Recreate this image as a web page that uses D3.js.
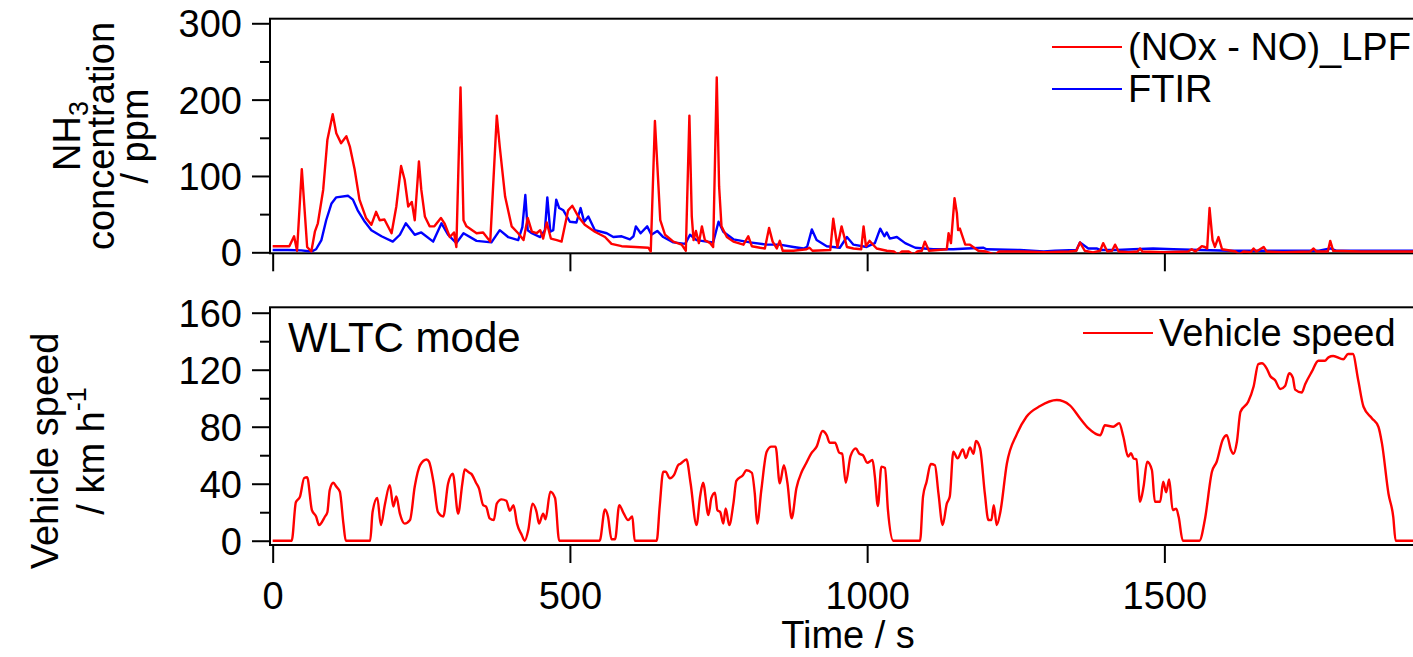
<!DOCTYPE html>
<html>
<head>
<meta charset="utf-8">
<script src="https://cdn.jsdelivr.net/npm/d3@7"></script>
<style>
  body { margin: 0; background: #fff; }
  svg { display: block; font-family: "Liberation Sans", Arial, sans-serif; }
</style>
</head>
<body>
<div id="chart"></div>
<script>
// NH3 from (NOx - NO) after low pass filter, [time s, ppm]
const lpfData = [
  [0,8],[28,8],[36,21],[41,2],[49,109],[58,7],[65,1],[71,27],[76,38],[85,82],[92,147],[101,181],
  [107,156],[115,143],[124,152],[130,138],[138,108],[146,69],[157,45],[166,36],[174,53],[180,42],
  [188,43],[200,25],[208,60],[216,113],[222,95],[228,60],[234,66],[239,42],[246,119],[250,82],
  [256,47],[264,34],[272,34],[283,45],[289,38],[298,20],[305,26],[309,7],[316,216],[321,42],
  [326,34],[343,25],[354,26],[366,14],[377,179],[382,138],[391,73],[402,34],[413,25],[422,16],
  [429,45],[436,27],[444,25],[450,29],[455,18],[461,39],[468,18],[478,16],[486,14],[497,55],
  [504,61],[514,47],[525,36],[542,27],[559,20],[570,11],[587,8],[610,7],[632,6],[636,1],[643,172],
  [649,86],[652,42],[660,23],[674,14],[688,10],[695,2],[701,179],[705,47],[708,16],[712,28],
  [717,12],[722,34],[727,16],[736,12],[741,7],[747,229],[751,86],[755,34],[764,20],[775,14],
  [792,10],[800,21],[806,8],[820,6],[828,5],[835,32],[841,14],[848,5],[853,15],[858,2],[876,2],
  [898,4],[903,6],[908,2],[938,3],[943,44],[950,7],[957,34],[966,7],[977,5],[990,4],[994,34],
  [998,8],[1004,15],[1016,5],[1033,2],[1045,1],[1052,-3],[1058,1],[1070,1],[1078,-3],[1084,1],
  [1092,2],[1097,14],[1104,2],[1134,4],[1137,25],[1141,12],[1147,71],[1151,51],[1153,29],
  [1156,31],[1165,10],[1173,10],[1187,2],[1200,1],[1215,-3],[1222,1],[1260,1],[1300,0],[1340,1],
  [1352,2],[1358,13],[1366,2],[1380,0],[1392,2],[1397,12],[1404,1],[1412,2],[1417,10],[1423,1],
  [1440,0],[1455,1],[1459,5],[1463,1],[1500,0],[1540,1],[1546,4],[1552,1],[1560,6],[1563,8],
  [1568,7],[1572,5],[1576,58],[1581,16],[1585,7],[1591,20],[1597,4],[1620,1],[1626,-3],[1633,1],
  [1645,0],[1650,5],[1655,1],[1667,7],[1672,1],[1700,0],[1745,1],[1751,5],[1756,1],[1775,1],
  [1779,15],[1784,2],[1829,1],[1930,1]
];

// NH3 measured by FTIR, [time s, ppm]
const ftirData = [
  [0,3],[25,3],[48,2.5],[65,1],[73,4],[82,16],[90,42],[99,64],[107,72],[127,74],[135,69],
  [143,55],[155,40],[166,29],[183,21],[202,14],[214,23],[224,38],[239,23],[250,26],[270,14],
  [284,38],[295,23],[309,12],[321,25],[343,15],[368,13],[382,29],[396,20],[413,16],[420,33],
  [425,75],[429,29],[436,25],[450,20],[458,29],[462,72],[467,27],[472,29],[477,69],[482,58],
  [489,55],[500,40],[511,39],[518,58],[524,40],[531,47],[542,29],[562,25],[573,20],[587,21],
  [601,17],[607,21],[611,34],[619,25],[630,34],[637,23],[647,28],[657,20],[674,13],[694,11],
  [702,23],[713,16],[730,14],[741,13],[750,40],[758,27],[775,17],[803,13],[831,10],[853,10],
  [876,7],[893,5],[899,7],[907,30],[915,16],[932,8],[954,6],[966,20],[977,10],[999,7],[1013,12],
  [1022,31],[1029,21],[1033,26],[1038,18],[1050,20],[1064,12],[1081,6],[1111,4],[1145,4],
  [1168,5],[1195,6],[1201,4],[1257,3],[1297,1],[1316,2],[1352,3],[1358,13],[1372,5],[1386,5],
  [1393,3],[1420,3],[1448,4],[1481,5],[1515,4],[1560,3],[1611,2],[1760,2],[1779,5],[1790,2],
  [1930,2]
];

// vehicle speed, [time s, km/h]
const speedData = [
  [0,0],[32,0],[39,27],[46,31],[53,44],[58,44.5],[66,21.5],[73,17],[78,11],[88,17],[92,20],
  [96,35.6],[102,40.7],[107,38],[113,34.4],[119,12],[123,0],[164,0],[168,20],[176,30],[182,11],
  [189,26],[197,39],[203,24],[208,31],[214,19],[222,12],[231,14.5],[239,38],[248,53],[259,57],
  [263,55.5],[271,40],[278,20],[287,17],[295,40],[303,47],[312,19],[319,40],[323,50],[331,47.7],
  [334,47],[342,40.7],[347,36.8],[354,25],[359,24],[365,15.7],[372,14.5],[377,26],[385,29],
  [393,28],[399,21],[405,25],[411,12],[419,4],[424,0],[430,7.5],[437,26],[444,20],[448,12],
  [455,19],[459,15],[467,34.4],[475,30],[482,0],[550,0],[559,22],[564,17],[570,1],[576,1],
  [583,25],[590,19.6],[598,14.5],[605,17],[609,0],[646,0],[651,24],[657,48.4],[661,48.4],
  [668,43.8],[675,46],[682,53],[686,54],[696,57],[703,40.3],[713,11],[719,31],[724,40.7],
  [733,18],[738,30],[744,33.7],[748,21.5],[753,20],[758,12],[762,22.7],[768,11],[775,26],
  [780,42],[791,46],[797,49.5],[806,47.7],[811,33],[815,12],[822,35.6],[831,62.5],[839,66],
  [846,66],[853,40.3],[860,53],[866,40.3],[873,15.7],[881,36.8],[890,48.4],[897,54],[906,61.3],
  [915,66],[925,77],[932,74],[937,68.8],[946,68.8],[953,61.8],[958,61],[964,40.7],[972,59.4],
  [981,64.8],[987,61],[993,60],[1000,54.7],[1009,56.6],[1013,45],[1018,24.4],[1024,52],[1030,51],
  [1035,21.5],[1044,0],[1089,0],[1094,31],[1100,41.4],[1107,53.8],[1114,53],[1120,33],[1127,11],
  [1134,26],[1139,31],[1145,62.5],[1152,57.8],[1161,64],[1166,58],[1173,65.5],[1179,61],[1183,70],
  [1190,64.8],[1198,33],[1204,14.5],[1209,14.5],[1213,25],[1218,11],[1224,20],[1235,54],[1252,75],
  [1268,87],[1291,94.5],[1319,98.7],[1341,95],[1358,86],[1372,79],[1392,74],[1400,81],[1414,80],
  [1424,82.4],[1431,73],[1439,59],[1444,61.5],[1448,57.8],[1453,57],[1459,27.4],[1465,38],
  [1471,55.4],[1479,49.6],[1484,27.4],[1493,27.4],[1498,41.4],[1503,34],[1508,43],[1514,21.5],
  [1520,22.5],[1524,16.8],[1531,0],[1559,0],[1568,14.5],[1580,48.4],[1588,55.4],[1598,70.7],
  [1605,74],[1612,63.6],[1616,61],[1622,69.5],[1628,90.5],[1641,97.5],[1650,108],[1658,124],
  [1664,124.5],[1672,121],[1678,115.6],[1686,112.8],[1695,106.5],[1703,108.6],[1710,117.5],
  [1716,114.6],[1720,106],[1731,104],[1737,110],[1748,118.6],[1759,126.3],[1770,126.3],
  [1776,128.7],[1784,129.6],[1801,127.3],[1809,131],[1817,131],[1826,112.8],[1835,94],[1849,86],
  [1860,80],[1866,68.3],[1877,33],[1885,16.8],[1889,0],[1930,0]
];

const timeTicks = [0, 500, 1000, 1500];
const concTicks = [0, 100, 200, 300];
const concMinor = [50, 150, 250];
const speedTicks = [0, 40, 80, 120, 160];
const speedMinor = [20, 60, 100, 140];

const W = 1413, H = 657;
const FONT = 38;

const svg = d3.select("#chart").append("svg")
    .attr("width", W)
    .attr("height", H);

const x = d3.scaleLinear().domain([-4.5, 1930]).range([270, 1420]);
const yTop = d3.scaleLinear().domain([-1.3, 306]).range([253.3, 18.7]);
const yBot = d3.scaleLinear().domain([-3, 163.8]).range([545, 307.3]);

// clip areas
const defs = svg.append("defs");
defs.append("clipPath").attr("id", "clipTop").append("rect")
    .attr("x", 270).attr("y", 18.7).attr("width", 1150).attr("height", 234.6);
defs.append("clipPath").attr("id", "clipBot").append("rect")
    .attr("x", 270).attr("y", 307.3).attr("width", 1150).attr("height", 237.7);

function drawPanel(y, ticks, minor, showX) {
    // left axis, major ticks with labels
    const left = svg.append("g")
        .attr("transform", "translate(270,0)")
        .call(d3.axisLeft(y).tickValues(ticks).tickSize(18).tickPadding(10));
    left.select(".domain").remove();
    left.selectAll("line").attr("stroke", "#000").attr("stroke-width", 2);
    left.selectAll("text")
        .attr("fill", "#000")
        .style("font-size", FONT + "px")
        .attr("dy", "0.36em");

    // minor ticks
    const lm = svg.append("g")
        .attr("transform", "translate(270,0)")
        .call(d3.axisLeft(y).tickValues(minor).tickSize(10).tickFormat(""));
    lm.select(".domain").remove();
    lm.selectAll("line").attr("stroke", "#000").attr("stroke-width", 2);

    // bottom ticks
    const y0 = y.range()[0];
    const bottom = svg.append("g")
        .attr("transform", "translate(0," + y0 + ")")
        .call(d3.axisBottom(x).tickValues(timeTicks).tickSize(18).tickPadding(19)
            .tickFormat(showX ? d3.format("d") : ""));
    bottom.select(".domain").remove();
    bottom.selectAll("line").attr("stroke", "#000").attr("stroke-width", 2);
    bottom.selectAll("text").attr("fill", "#000").style("font-size", FONT + "px");

    // frame
    svg.append("rect")
        .attr("x", 270)
        .attr("y", y.range()[1])
        .attr("width", 1160)
        .attr("height", y.range()[0] - y.range()[1])
        .attr("fill", "none")
        .attr("stroke", "#000")
        .attr("stroke-width", 2);
}

drawPanel(yTop, concTicks, concMinor, false);
drawPanel(yBot, speedTicks, speedMinor, true);

const lineTop = d3.line().x(d => x(d[0])).y(d => yTop(d[1]));
const lineBot = d3.line().x(d => x(d[0])).y(d => yBot(d[1])).curve(d3.curveMonotoneX);

svg.append("path")
    .datum(ftirData)
    .attr("clip-path", "url(#clipTop)")
    .attr("d", lineTop)
    .attr("fill", "none")
    .attr("stroke", "#0000ff")
    .attr("stroke-width", 2.4)
    .attr("stroke-linejoin", "round");

svg.append("path")
    .datum(lpfData)
    .attr("clip-path", "url(#clipTop)")
    .attr("d", lineTop)
    .attr("fill", "none")
    .attr("stroke", "#ff0000")
    .attr("stroke-width", 2.4)
    .attr("stroke-linejoin", "round");

svg.append("path")
    .datum(speedData)
    .attr("clip-path", "url(#clipBot)")
    .attr("d", lineBot)
    .attr("fill", "none")
    .attr("stroke", "#ff0000")
    .attr("stroke-width", 2.4)
    .attr("stroke-linejoin", "round");

// legends
function legendItem(x1, x2, ly, color, label) {
    svg.append("line")
        .attr("x1", x1).attr("x2", x2)
        .attr("y1", ly).attr("y2", ly)
        .attr("stroke", color)
        .attr("stroke-width", 2);
    svg.append("text")
        .attr("x", x2 + 6)
        .attr("y", ly + 13)
        .style("font-size", FONT + "px")
        .text(label);
}
legendItem(1052, 1122, 47, "#ff0000", "(NOx - NO)_LPF");
legendItem(1052, 1122, 89, "#0000ff", "FTIR");
legendItem(1083, 1153, 333, "#ff0000", "Vehicle speed");

svg.append("text")
    .attr("x", 288)
    .attr("y", 352)
    .style("font-size", "42px")
    .text("WLTC mode");

// x title
svg.append("text")
    .attr("x", 848)
    .attr("y", 648)
    .attr("text-anchor", "middle")
    .style("font-size", FONT + "px")
    .text("Time / s");

// y titles
const t1 = svg.append("text")
    .attr("transform", "translate(80,136) rotate(-90)")
    .attr("text-anchor", "middle")
    .style("font-size", FONT + "px");
t1.append("tspan").text("NH");
t1.append("tspan").attr("dy", 8).style("font-size", "27px").text("3");

svg.append("text")
    .attr("transform", "translate(114,136) rotate(-90)")
    .attr("text-anchor", "middle")
    .style("font-size", FONT + "px")
    .text("concentration");

svg.append("text")
    .attr("transform", "translate(148,136) rotate(-90)")
    .attr("text-anchor", "middle")
    .style("font-size", FONT + "px")
    .text("/ ppm");

svg.append("text")
    .attr("transform", "translate(58,451) rotate(-90)")
    .attr("text-anchor", "middle")
    .style("font-size", FONT + "px")
    .text("Vehicle speed");

const t2 = svg.append("text")
    .attr("transform", "translate(104,451) rotate(-90)")
    .attr("text-anchor", "middle")
    .style("font-size", FONT + "px");
t2.append("tspan").text("/ km h");
t2.append("tspan").attr("dy", -18).style("font-size", "27px").text("-1");
</script>
</body>
</html>
